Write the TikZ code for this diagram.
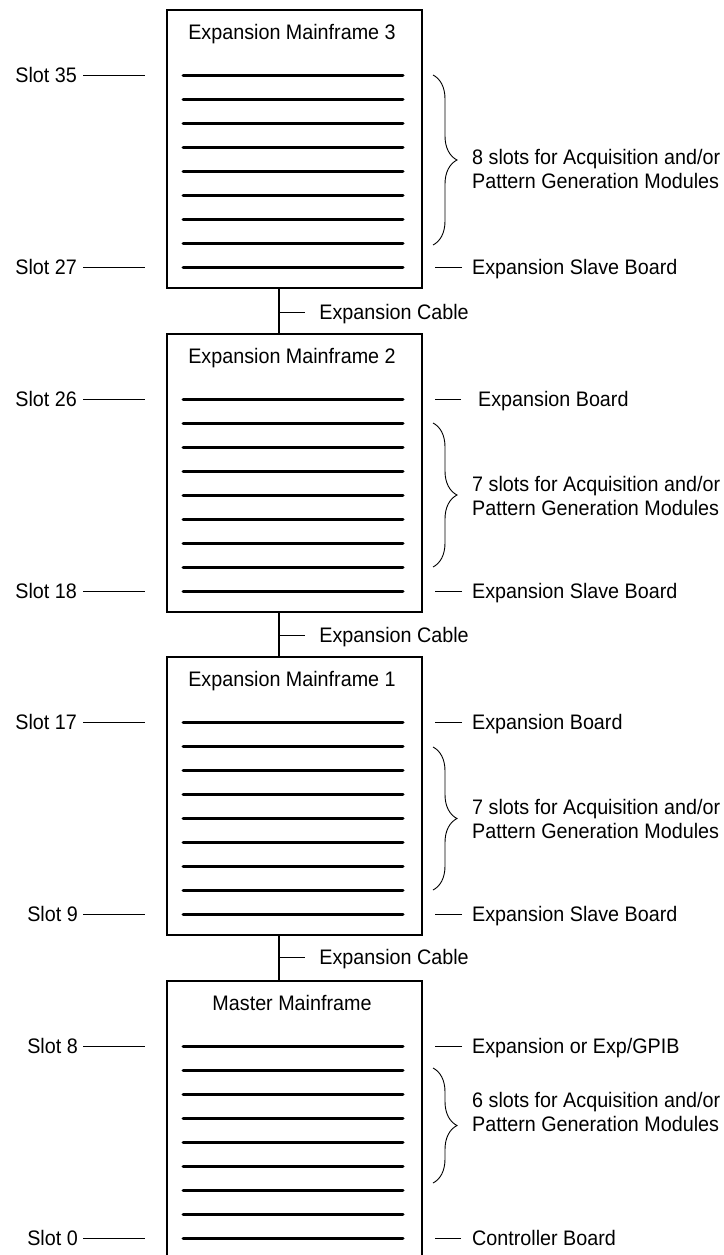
\documentclass[tikz,border=0pt]{standalone}
\usepackage{fontspec}
\setmainfont{Liberation Sans}[FakeStretch=0.94]
\usetikzlibrary{decorations.pathreplacing}

\tikzset{
  frame/.style={draw, line width=2pt, minimum width=255pt, minimum height=278pt,
    inner sep=0pt, outer sep=0pt, anchor=north west},
  slotline/.style={line width=3pt, line cap=round},
  leader/.style={line width=0.9pt},
  cable/.style={line width=2pt},
  lbl/.style={inner sep=0pt, text height=15pt, text depth=0pt,
    font=\fontsize{21}{24}\selectfont},
  modtext/.style={inner sep=0pt, align=left, anchor=west,
    font=\fontsize{21}{24}\selectfont},
  modbrace/.style={decorate, decoration={brace, amplitude=24pt}, line width=0.9pt},
}

\begin{document}
\begin{tikzpicture}[x=1pt, y=-1pt]
\useasboundingbox (0,0) rectangle (723,1255);
\clip (0,0) rectangle (723,1255);

% mainframes
\node[frame] (m3) at (167,10) {};
\node[frame] (m2) at (167,334) {};
\node[frame] (m1) at (167,657) {};
\node[frame] (m0) at (167,981) {};

\node[lbl] (t3) at (292,32) {Expansion Mainframe 3};
\node[lbl] (t2) at (292,356) {Expansion Mainframe 2};
\node[lbl] (t1) at (292,679) {Expansion Mainframe 1};
\node[lbl] (t0) at (292,1003) {Master Mainframe};

% slot boards
\foreach \top in {10,334,657,981}
  \foreach \i in {0,...,8}
    \draw[slotline] (183,{\top+65+24*\i}) -- (403,{\top+65+24*\i});

% slot numbers
\node[lbl, anchor=east] (s35) at (77,75) {Slot 35};
\node[lbl, anchor=east] (s27) at (77,267) {Slot 27};
\node[lbl, anchor=east] (s26) at (77,399) {Slot 26};
\node[lbl, anchor=east] (s18) at (77,591) {Slot 18};
\node[lbl, anchor=east] (s17) at (77,722) {Slot 17};
\node[lbl, anchor=east] (s9) at (78,914) {Slot 9};
\node[lbl, anchor=east] (s8) at (78,1046) {Slot 8};
\node[lbl, anchor=east] (s0) at (78,1238) {Slot 0};

\draw[leader] ([xshift=6pt]s35.east) -- ([xshift=-22pt]m3.west |- s35);
\draw[leader] ([xshift=6pt]s27.east) -- ([xshift=-22pt]m3.west |- s27);
\draw[leader] ([xshift=6pt]s26.east) -- ([xshift=-22pt]m2.west |- s26);
\draw[leader] ([xshift=6pt]s18.east) -- ([xshift=-22pt]m2.west |- s18);
\draw[leader] ([xshift=6pt]s17.east) -- ([xshift=-22pt]m1.west |- s17);
\draw[leader] ([xshift=5pt]s9.east) -- ([xshift=-22pt]m1.west |- s9);
\draw[leader] ([xshift=5pt]s8.east) -- ([xshift=-22pt]m0.west |- s8);
\draw[leader] ([xshift=5pt]s0.east) -- ([xshift=-22pt]m0.west |- s0);

% board names
\node[lbl, anchor=west] (esb3) at (472,267) {Expansion Slave Board};
\node[lbl, anchor=west] (eb2) at (478,399) {Expansion Board};
\node[lbl, anchor=west] (esb2) at (472,591) {Expansion Slave Board};
\node[lbl, anchor=west] (eb1) at (472,722) {Expansion Board};
\node[lbl, anchor=west] (esb1) at (472,914) {Expansion Slave Board};
\node[lbl, anchor=west] (exp0) at (472,1046) {Expansion or Exp/GPIB};
\node[lbl, anchor=west] (ctl0) at (472,1238) {Controller Board};

\draw[leader] ([xshift=-10pt]esb3.west) -- ([xshift=13pt]m3.east |- esb3);
\draw[leader] ([xshift=-17pt]eb2.west) -- ([xshift=13pt]m2.east |- eb2);
\draw[leader] ([xshift=-10pt]esb2.west) -- ([xshift=13pt]m2.east |- esb2);
\draw[leader] ([xshift=-10pt]eb1.west) -- ([xshift=13pt]m1.east |- eb1);
\draw[leader] ([xshift=-10pt]esb1.west) -- ([xshift=13pt]m1.east |- esb1);
\draw[leader] ([xshift=-10pt]exp0.west) -- ([xshift=13pt]m0.east |- exp0);
\draw[leader] ([xshift=-11pt]ctl0.west) -- ([xshift=13pt]m0.east |- ctl0);

% module slots
\draw[modbrace] (433,75) -- (433,245);
\draw[modbrace] (433,423) -- (433,567);
\draw[modbrace] (433,747) -- (433,890);
\draw[modbrace] (433,1068) -- (433,1183);

\node[modtext] (mod3) at (472,169) {8 slots for Acquisition and/or\\Pattern Generation Modules};
\node[modtext] (mod2) at (472,496) {7 slots for Acquisition and/or\\Pattern Generation Modules};
\node[modtext] (mod1) at (472,819) {7 slots for Acquisition and/or\\Pattern Generation Modules};
\node[modtext] (mod0) at (472,1112) {6 slots for Acquisition and/or\\Pattern Generation Modules};

% expansion cables
\draw[cable] ([xshift=112pt]m3.south west) coordinate (c3) -- (c3 |- m2.north);
\draw[cable] ([xshift=112pt]m2.south west) coordinate (c2) -- (c2 |- m1.north);
\draw[cable] ([xshift=112pt]m1.south west) coordinate (c1) -- (c1 |- m0.north);

\draw[leader] (c3) ++(0,24) -- ++(26,0) node[lbl, anchor=west, xshift=14pt] (cab3) {Expansion Cable};
\draw[leader] (c2) ++(0,23) -- ++(26,0) node[lbl, anchor=west, xshift=14pt] (cab2) {Expansion Cable};
\draw[leader] (c1) ++(0,22) -- ++(26,0) node[lbl, anchor=west, xshift=14pt] (cab1) {Expansion Cable};
\end{tikzpicture}
\end{document}
